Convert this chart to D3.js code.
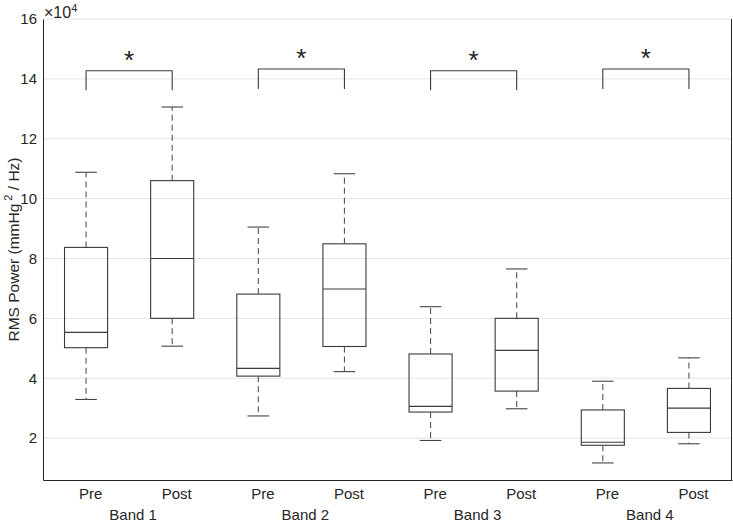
<!DOCTYPE html>
<html><head><meta charset="utf-8">
<script src="https://cdn.jsdelivr.net/npm/d3@7"></script>
<style>body{margin:0;background:#fff}svg{display:block}text{font-family:"Liberation Sans",Arial,Helvetica,sans-serif}</style>
</head><body>
<svg id="c" width="733" height="524"></svg>
<script>
// Data (values in units of 1e4)
const bands = ["Band 1","Band 2","Band 3","Band 4"];
const conditions = ["Pre","Post"];
const lowerWhisker = [3.29, 5.07, 2.74, 4.22, 1.92, 2.98, 1.17, 1.81];
const q1           = [5.02, 6.00, 4.07, 5.06, 2.87, 3.57, 1.76, 2.19];
const median       = [5.53, 8.00, 4.33, 6.98, 3.06, 4.93, 1.86, 3.00];
const q3           = [8.37, 10.60, 6.81, 8.49, 4.81, 6.00, 2.94, 3.66];
const upperWhisker = [10.88, 13.06, 9.05, 10.83, 6.39, 7.65, 3.90, 4.68];
const bracketTop    = [14.27, 14.33, 14.27, 14.33];
const bracketBottom = [13.62, 13.66, 13.62, 13.66];
const sigLabels = ["*","*","*","*"];
const yTicks = [2,4,6,8,10,12,14,16];

const svg = d3.select("#c");
const W = 733, H = 524;
const m = {left:43, right:1, top:19, bottom:44};
const x = d3.scaleLinear().domain([0.5, 8.5]).range([m.left, W - m.right]);
const y = d3.scaleLinear().domain([0.6, 16]).range([H - m.bottom, m.top]);
const axisColor = "#262626";
const lineColor = "#3a3a3a";
const fs = 15;

// grid
svg.append("g").selectAll("line").data(yTicks).join("line")
  .attr("x1", x(0.5)).attr("x2", x(8.5))
  .attr("y1", d=>y(d)).attr("y2", d=>y(d))
  .attr("stroke", "#e3e3e3").attr("stroke-width", 1);

// y axis
const ya = svg.append("g").attr("transform", `translate(${m.left},0)`)
  .call(d3.axisLeft(y).tickValues(yTicks).tickSize(0).tickPadding(6).tickFormat(d3.format("d")));
ya.select(".domain").attr("stroke", axisColor);
ya.selectAll("text").attr("font-size", fs).attr("fill", "#262626");

// x axis
const xa = svg.append("g").attr("transform", `translate(0,${H - m.bottom})`)
  .call(d3.axisBottom(x).tickValues(d3.range(1,9)).tickSize(0).tickPadding(8)
    .tickFormat((d,i)=>conditions[i%2]));
xa.select(".domain").attr("stroke", axisColor);
xa.selectAll("text").attr("font-size", fs).attr("fill", "#262626").attr("dx", 4);

// right border
svg.append("line").attr("x1", x(8.5)-0.5).attr("x2", x(8.5)-0.5)
  .attr("y1", y(16)).attr("y2", y(0.6)).attr("stroke", axisColor);

// band labels
svg.append("g").selectAll("text").data(bands).join("text")
  .attr("x", (d,i)=>x(2*i+1.5)+4).attr("y", 520)
  .attr("text-anchor","middle").attr("font-size",fs).attr("fill","#262626").text(d=>d);

// exponent label
const ex = svg.append("text").attr("x", 44).attr("y", 18).attr("font-size", 16).attr("fill","#262626");
ex.append("tspan").text("\u00d710");
ex.append("tspan").attr("font-size", 11).attr("dy", -6).text("4");

// y label
const yl = svg.append("text").attr("transform", `translate(19,${(y(16)+y(0.6))/2}) rotate(-90)`)
  .attr("text-anchor","middle").attr("font-size",15.5).attr("fill","#262626");
yl.append("tspan").text("RMS Power (mmHg");
yl.append("tspan").attr("font-size",11).attr("dy",-7).text(" 2");
yl.append("tspan").attr("dy",7).text(" / Hz)");

// boxes
const idx = d3.range(8);
const bw = 0.25, cw = 0.125;
const g = svg.append("g");
idx.forEach(i=>{
  const cx = x(i+1);
  const hb = x(bw) - x(0), hc = x(cw) - x(0);
  g.append("line").attr("x1",cx).attr("x2",cx).attr("y1",y(q3[i])).attr("y2",y(upperWhisker[i]))
    .attr("stroke","#555").attr("stroke-dasharray","6,4").attr("stroke-width",1.1);
  g.append("line").attr("x1",cx).attr("x2",cx).attr("y1",y(q1[i])).attr("y2",y(lowerWhisker[i]))
    .attr("stroke","#555").attr("stroke-dasharray","6,4").attr("stroke-width",1.1);
  [upperWhisker[i], lowerWhisker[i]].forEach(v=>{
    g.append("line").attr("x1",cx-hc).attr("x2",cx+hc).attr("y1",y(v)).attr("y2",y(v))
      .attr("stroke","#444").attr("stroke-width",1.1);
  });
  g.append("rect").attr("x",cx-hb).attr("width",2*hb)
    .attr("y",y(q3[i])).attr("height",y(q1[i])-y(q3[i]))
    .attr("fill","none").attr("stroke",lineColor).attr("stroke-width",1.1);
  g.append("line").attr("x1",cx-hb).attr("x2",cx+hb).attr("y1",y(median[i])).attr("y2",y(median[i]))
    .attr("stroke",lineColor).attr("stroke-width",1.1);
});

// significance brackets
bands.forEach((b,k)=>{
  const x1 = x(2*k+1), x2 = x(2*k+2);
  const yt = y(bracketTop[k]), yb = y(bracketBottom[k]);
  svg.append("path").attr("d", `M${x1},${yb}V${yt}H${x2}V${yb}`)
    .attr("fill","none").attr("stroke",lineColor).attr("stroke-width",1.1);
  svg.append("text").attr("x",(x1+x2)/2).attr("y", yt-2)
    .attr("text-anchor","middle").attr("font-size",26).attr("fill","#222").text(sigLabels[k]);
});
</script>
</body></html>
